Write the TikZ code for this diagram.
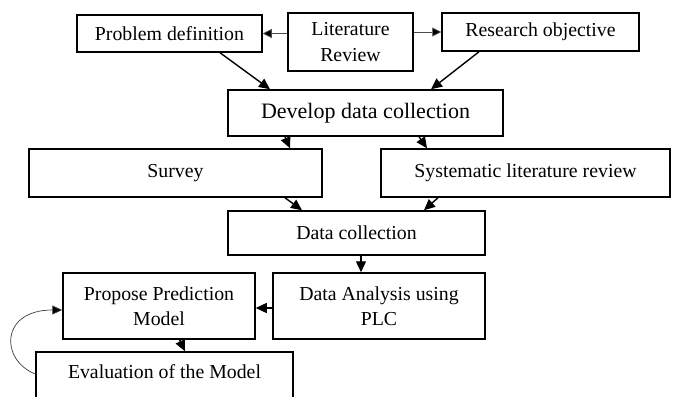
\documentclass[tikz,border=0pt]{standalone}
\usepackage{fontspec}
\setmainfont{Liberation Serif}
\usetikzlibrary{arrows.meta,calc}
\begin{document}
\begin{tikzpicture}[x=1pt,y=-1pt,
  box/.style={draw=black,line width=1.5pt,inner sep=0pt,align=center,font=\fontsize{19.8}{25.5}\selectfont},
  arr/.style={line width=1.4pt,-{Triangle[length=11pt,width=10pt]}},
  thinarr/.style={line width=0.8pt,draw=black!70,-{Triangle[length=9pt,width=9pt,fill=black]}},
  curvarr/.style={line width=0.7pt,draw=black!75,-{Triangle[length=10pt,width=9pt,fill=black]}}]
\clip (0,0) rectangle (676,396);
\fill[white] (0,0) rectangle (676,396);
\node[box,minimum width=125pt,minimum height=58pt] (lr) at (350.5,42) {Literature\\Review};
\node[box,minimum width=185pt,minimum height=37pt] (pd) at (169.5,33.5) {Problem definition};
\node[box,minimum width=197pt,minimum height=38pt] (ro) at (540.5,32) {Research objective};
\node[box,minimum width=275pt,minimum height=46pt,font=\fontsize{22}{26}\selectfont] (dev) at (365.5,113) {Develop data collection};
\node[box,minimum width=293pt,minimum height=48pt] (sv) at (175.5,173) {Survey};
\node[box,minimum width=289pt,minimum height=48pt] (slr) at (525.5,173) {Systematic literature review};
\node[box,minimum width=257pt,minimum height=44pt] (dc) at (356.5,233) {Data collection};
\node[box,minimum width=212pt,minimum height=66pt] (da) at (379,306) {Data Analysis using\\PLC};
\node[box,minimum width=192pt,minimum height=66pt] (pp) at (159,306) {Propose Prediction\\Model};
\node[box,minimum width=257pt,minimum height=60pt] (ev) at (164.5,382) {};
\node[inner sep=0pt,font=\fontsize{19.8}{25.5}\selectfont] (evt) at (164.5,372) {Evaluation of the Model};
% connectors
\draw[thinarr] (lr.west |- pd.east) -- (pd.east);
\draw[thinarr] (lr.east |- ro.west) -- (ro.west);
\draw[arr] ([xshift=50.5pt]pd.south) -- ([xshift=-95.5pt]dev.north);
\draw[arr] ([xshift=-61.5pt]ro.south) -- ([xshift=65.5pt]dev.north);
\draw[arr] ([xshift=-80.5pt]dev.south) -- ([xshift=114.5pt]sv.north);
\draw[arr] ([xshift=53.5pt]dev.south) -- ([xshift=-98.5pt]slr.north);
\draw[arr] ([xshift=109.5pt]sv.south) -- ([xshift=-54.5pt]dc.north);
\draw[arr] ([xshift=-87.5pt]slr.south) -- ([xshift=67.5pt]dc.north);
\draw[arr] ([xshift=4.5pt]dc.south) -- ([xshift=-18pt]da.north);
\draw[arr] ([yshift=-2pt]da.west) -- ([yshift=-2pt]pp.east);
\draw[arr] ([xshift=20.5pt]pp.south) -- ([xshift=20.5pt]ev.north);
\draw[curvarr] ([yshift=8pt]ev.west) .. controls (0,360) and (0,310) .. ([yshift=-4pt]pp.west);
\end{tikzpicture}
\end{document}
